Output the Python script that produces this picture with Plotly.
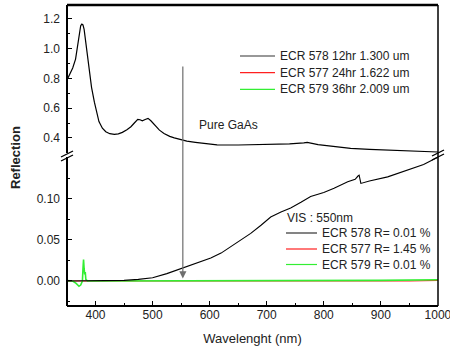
import plotly.graph_objects as go

# ---------------- data ----------------
wl_upper = [350, 355, 360, 365, 368, 371, 374, 376, 378, 380, 383, 386, 389, 393, 398, 402, 406,
            412, 418, 425, 433, 440, 447, 455, 462, 468, 474, 478, 482, 487, 492, 497, 502, 506,
            512, 520, 530, 538, 550, 560, 575, 590, 613, 650, 700, 740, 765, 771, 790, 820, 847,
            880, 918, 950, 993, 1000]
r_upper = [0.79, 0.83, 0.87, 0.93, 1.00, 1.10, 1.155, 1.165, 1.16, 1.13, 1.03, 0.93, 0.845, 0.74,
           0.64, 0.57, 0.51, 0.465, 0.441, 0.428, 0.423, 0.427, 0.437, 0.455, 0.475, 0.50, 0.525,
           0.522, 0.515, 0.524, 0.531, 0.515, 0.495, 0.475, 0.452, 0.43, 0.41, 0.40, 0.388, 0.378,
           0.370, 0.362, 0.353, 0.352, 0.356, 0.360, 0.367, 0.370, 0.355, 0.340, 0.329, 0.323,
           0.318, 0.313, 0.307, 0.305]

wl_black = [350, 400, 450, 475, 500, 525, 553, 580, 602, 620, 637, 655, 672, 690, 707, 725, 742,
            760, 777, 800, 818, 842, 855, 860, 862, 865, 880, 912, 947, 975, 1000]
r_black = [0.0, 0.0, 0.0008, 0.002, 0.004, 0.009, 0.016, 0.022, 0.028, 0.034, 0.042, 0.050, 0.058,
           0.068, 0.078, 0.084, 0.089, 0.096, 0.103, 0.108, 0.113, 0.121, 0.124, 0.128, 0.129,
           0.119, 0.122, 0.127, 0.135, 0.142, 0.151]

wl_red = [350, 500, 760, 800, 850, 900, 950, 1000]
r_red = [0.0, 0.0, -0.0003, -0.0004, -0.0005, -0.0002, 0.0, 0.0008]

wl_green = [350, 360, 366, 371, 374, 377, 378, 379, 380, 381, 382, 383, 386, 400, 600, 760, 800,
            900, 1000]
r_green = [0.0005, 0.0, -0.003, -0.0065, -0.005, 0.0, 0.015, 0.026, 0.015, 0.008, 0.011, 0.002,
           0.0, 0.0, 0.0, 0.0, 0.0003, 0.0008, 0.0015]

colors = ["#000000", "#ff2020", "#33ee33"]
legend_upper = ["ECR 578 12hr 1.300 um", "ECR 577 24hr 1.622 um", "ECR 579 36hr 2.009 um"]
legend_lower_title = "VIS : 550nm"
legend_lower = ["ECR 578 R= 0.01 %", "ECR 577 R= 1.45 %", "ECR 579 R= 0.01 %"]
arrow_wl = 553
arrow_top = 0.89      # upper-axis value
arrow_bottom = 0.003  # lower-axis value

x_ticks = [400, 500, 600, 700, 800, 900, 1000]
yu_ticks = [0.4, 0.6, 0.8, 1.0, 1.2]
yl_ticks = [0.0, 0.05, 0.10]
yl_ticktext = ["0.00", "0.05", "0.10"]

# ---------------- layout geometry ----------------
W, H = 450, 351
ML, MR, MT, MB = 67, 12, 5, 45
PW, PH = W - ML - MR, H - MT - MB
x_rng = [350, 1000.2]
up_dom = [0.508, 1.0]
lo_dom = [0.0, 0.495]
up_rng = [0.2976, 1.294]
lo_rng = [-0.0305, 0.1512]

def px_x(px):
    return (px - ML) / PW

def px_y(py):
    return (H - MB - py) / PH

def up_to_paper(v):
    return up_dom[0] + (v - up_rng[0]) / (up_rng[1] - up_rng[0]) * (up_dom[1] - up_dom[0])

def lo_to_paper(v):
    return lo_dom[0] + (v - lo_rng[0]) / (lo_rng[1] - lo_rng[0]) * (lo_dom[1] - lo_dom[0])

FONT = "Liberation Sans, Arial, sans-serif"
TXT = "#222222"

fig = go.Figure()
fig.add_trace(go.Scatter(x=wl_upper, y=r_upper, mode="lines", yaxis="y2",
                         line=dict(color=colors[0], width=1.2), showlegend=False))
fig.add_trace(go.Scatter(x=wl_red, y=r_red, mode="lines", yaxis="y",
                         line=dict(color=colors[1], width=1.2), showlegend=False))
fig.add_trace(go.Scatter(x=wl_green, y=r_green, mode="lines", yaxis="y",
                         line=dict(color=colors[2], width=1.6), showlegend=False))
fig.add_trace(go.Scatter(x=wl_black, y=r_black, mode="lines", yaxis="y",
                         line=dict(color=colors[0], width=1.1), showlegend=False))

shapes = []
annotations = []

# frame: top, right, left (two pieces with a gap), bottom
frame = [
    (0, 1, 1, 1, 2.5),
    (1, 0, 1, 1, 1.5),
    (0, up_dom[0], 0, 1, 2),
    (0, 0, 0, lo_dom[1], 2),
    (0, 0, 1, 0, 2),
]
for (x0, y0, x1, y1, w) in frame:
    shapes.append(dict(type="line", xref="paper", yref="paper", x0=x0, y0=y0, x1=x1, y1=y1,
                       line=dict(color="black", width=w), layer="above"))

# break marks
for (x0, y0, x1, y1) in [(61, 157, 73, 151), (61, 161, 73, 155),
                         (432, 156, 444, 150), (432, 160, 444, 154)]:
    shapes.append(dict(type="line", xref="paper", yref="paper",
                       x0=px_x(x0), y0=px_y(y0), x1=px_x(x1), y1=px_y(y1),
                       line=dict(color="black", width=1.3)))

# upper legend
ux0, ux1, utx = 240, 275, 278
urows = [56, 72.7, 89.3]
for i, name in enumerate(legend_upper):
    shapes.append(dict(type="line", xref="paper", yref="paper",
                       x0=px_x(ux0), x1=px_x(ux1), y0=px_y(urows[i]), y1=px_y(urows[i]),
                       line=dict(color=colors[i] if i else "#333333", width=1.2)))
    annotations.append(dict(text=name, xref="paper", yref="paper", x=px_x(utx), y=px_y(urows[i]),
                            xanchor="left", yanchor="middle", showarrow=False,
                            font=dict(family=FONT, size=12, color=TXT)))

# lower legend
lx0, lx1, ltx = 286, 317, 320
lrows = [233, 249, 264.5]
annotations.append(dict(text=legend_lower_title, xref="paper", yref="paper", x=px_x(lx0 - 1),
                        y=px_y(218), xanchor="left", yanchor="middle", showarrow=False,
                        font=dict(family=FONT, size=12, color=TXT)))
for i, name in enumerate(legend_lower):
    shapes.append(dict(type="line", xref="paper", yref="paper",
                       x0=px_x(lx0), x1=px_x(lx1), y0=px_y(lrows[i]), y1=px_y(lrows[i]),
                       line=dict(color=colors[i] if i else "#333333", width=1.2)))
    annotations.append(dict(text=name, xref="paper", yref="paper", x=px_x(ltx), y=px_y(lrows[i]),
                            xanchor="left", yanchor="middle", showarrow=False,
                            font=dict(family=FONT, size=12, color=TXT)))

# "Pure GaAs" label
annotations.append(dict(text="Pure GaAs", xref="paper", yref="paper", x=px_x(197), y=px_y(125),
                        xanchor="left", yanchor="middle", showarrow=False,
                        font=dict(family=FONT, size=12, color=TXT)))

# arrow spanning both panels (tail offset in pixels derived from the two axis scales)
head_p = lo_to_paper(arrow_bottom)
tail_p = up_to_paper(arrow_top)
annotations.append(dict(text="", xref="x", yref="paper", x=arrow_wl, y=head_p,
                        axref="pixel", ayref="pixel", ax=0, ay=-(tail_p - head_p) * PH,
                        showarrow=True, arrowhead=2, arrowsize=1.2, arrowwidth=1.2,
                        arrowcolor="#6e6e6e", standoff=0))

# y title
annotations.append(dict(text="<b>Reflection</b>", xref="paper", yref="paper", x=px_x(15),
                        y=px_y(158), textangle=-90, showarrow=False, xanchor="center",
                        yanchor="middle", font=dict(family=FONT, size=13, color=TXT)))

axis_common = dict(showline=False, showgrid=False, zeroline=False, automargin=False,
                   ticks="inside", ticklen=5, tickwidth=1.2, tickcolor="black",
                   ticklabeloverflow="allow",
                   tickfont=dict(family=FONT, size=12, color=TXT))

fig.update_layout(
    width=W, height=H,
    margin=dict(l=ML, r=MR, t=MT, b=MB, autoexpand=False),
    paper_bgcolor="white", plot_bgcolor="white",
    showlegend=False,
    xaxis=dict(range=x_rng, domain=[0, 1], anchor="y", tickvals=x_ticks,
               minor=dict(dtick=50, tick0=350, ticks="inside", ticklen=3, tickcolor="black",
                          tickwidth=1),
               title=dict(text="Wavelenght (nm)", standoff=12,
                          font=dict(family=FONT, size=13, color=TXT)),
               **axis_common),
    yaxis=dict(domain=lo_dom, range=lo_rng, anchor="x", tickvals=yl_ticks, ticktext=yl_ticktext,
               minor=dict(tickvals=[-0.025, 0.025, 0.075, 0.125], ticks="inside", ticklen=3,
                          tickcolor="black", tickwidth=1),
               ticklabelstandoff=6, **axis_common),
    yaxis2=dict(domain=up_dom, range=up_rng, anchor="x", tickvals=yu_ticks,
                ticktext=["0.4", "0.6", "0.8", "1.0", "1.2"],
                minor=dict(tickvals=[0.3, 0.5, 0.7, 0.9, 1.1], ticks="inside", ticklen=3,
                           tickcolor="black", tickwidth=1),
                ticklabelstandoff=6, **axis_common),
    shapes=shapes,
    annotations=annotations,
)

fig.write_html("out.html")
